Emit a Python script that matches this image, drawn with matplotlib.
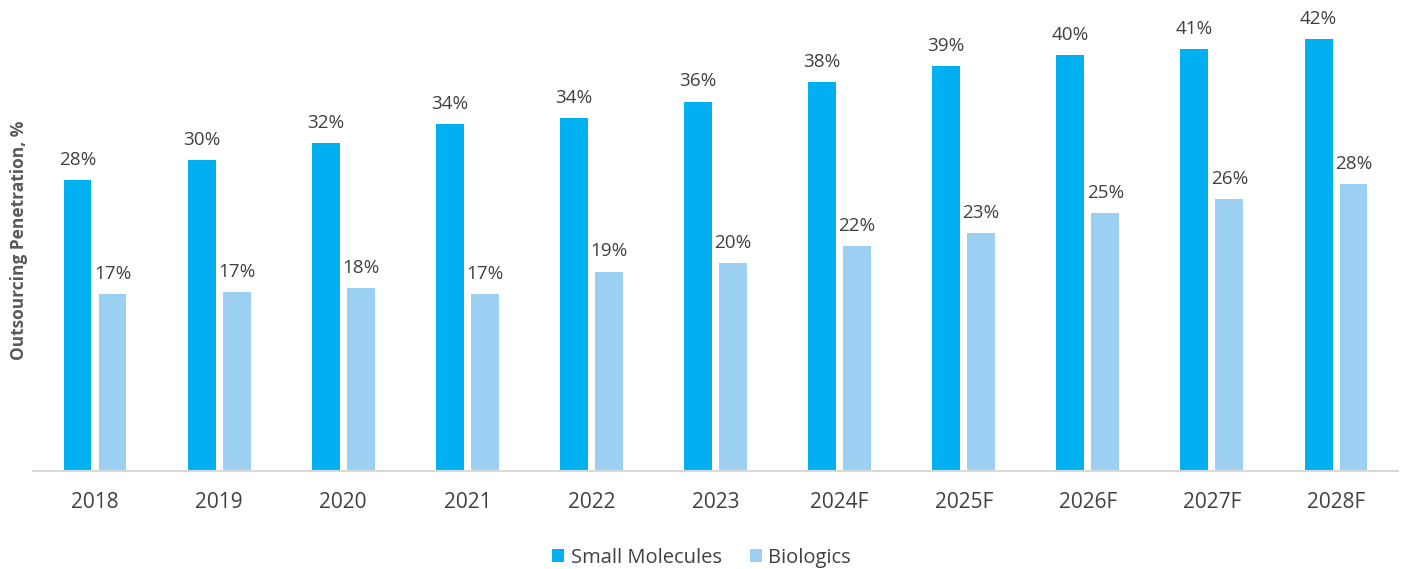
import matplotlib
matplotlib.use("Agg")
import matplotlib.pyplot as plt
import numpy as np

years = ["2018", "2019", "2020", "2021", "2022", "2023", "2024F", "2025F", "2026F", "2027F", "2028F"]
small_molecules = [28.3, 30.2, 31.9, 33.7, 34.3, 35.9, 37.8, 39.3, 40.4, 41.0, 42.0]
biologics = [17.2, 17.4, 17.8, 17.2, 19.4, 20.2, 21.9, 23.1, 25.1, 26.4, 27.9]
series_names = ["Small Molecules", "Biologics"]

plt.rcParams['font.family'] = ['Open Sans', 'DejaVu Sans']
text_color = "#404040"

fig = plt.figure(figsize=(14.03, 5.69), dpi=100)
ax = fig.add_axes([0.0235, 0.1714, 0.973, 0.815])

x = np.arange(len(years))
w = 0.225
off = 0.141
b1 = ax.bar(x - off, small_molecules, w, color="#00B0F0", label=series_names[0])
b2 = ax.bar(x + off, biologics, w, color="#9BD0F3", label=series_names[1])

for bars, vals in ((b1, small_molecules), (b2, biologics)):
    for rect, v in zip(bars, vals):
        ax.annotate(f"{round(v):.0f}%", (rect.get_x() + rect.get_width() / 2, rect.get_height()),
                    xytext=(0, 8), textcoords="offset points", ha="center", va="bottom",
                    fontsize=13.6, color=text_color)

ax.set_xlim(-0.5, len(years) - 0.5)
ax.set_ylim(0, 45)
ax.set_xticks(x)
ax.set_xticklabels(years, fontsize=15, color=text_color)
ax.tick_params(axis="x", length=0, pad=15)
ax.set_yticks([])
for s in ["top", "right", "left"]:
    ax.spines[s].set_visible(False)
ax.spines["bottom"].set_color("#d9d9d9")
ax.spines["bottom"].set_linewidth(1.5)

fig.text(0.0135, 1 - 240 / 569, "Outsourcing Penetration, %", rotation=90,
         ha="center", va="center", fontsize=12.5, fontweight="bold", color="#595959")

leg = fig.legend(handles=[b1, b2], labels=series_names, loc="center", bbox_to_anchor=(0.5, 0.02),
                 ncol=2, frameon=False, fontsize=14.5, handlelength=0.6, handleheight=0.6,
                 handletextpad=0.3, columnspacing=1.4)
for t in leg.get_texts():
    t.set_color(text_color)

fig.savefig("out.png", dpi=100)
